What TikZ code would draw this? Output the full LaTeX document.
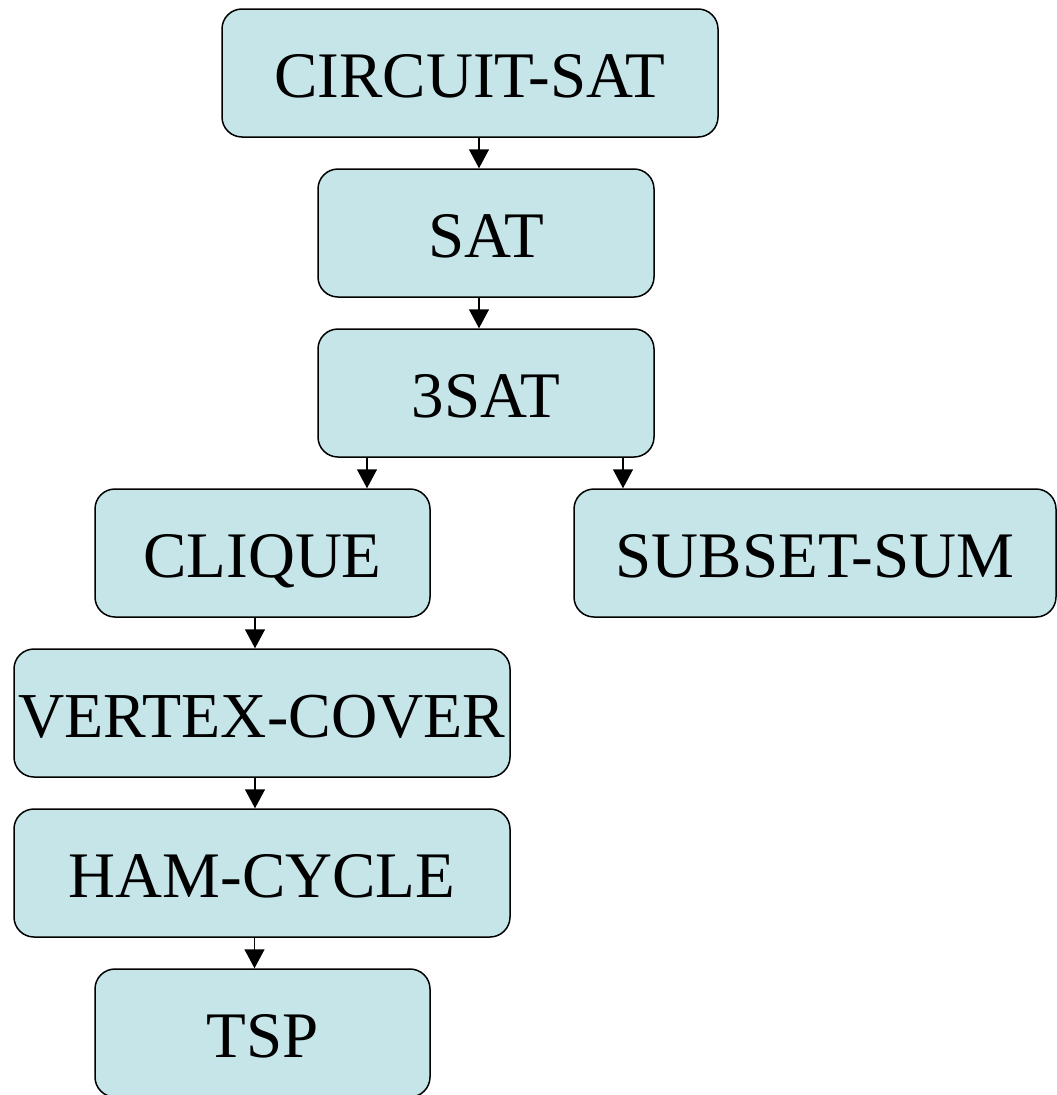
\documentclass[tikz,border=0pt]{standalone}
\usepackage{fontspec}
\setmainfont{Liberation Serif}
\usetikzlibrary{arrows.meta}
\definecolor{boxfill}{RGB}{198,229,232}
\tikzset{
  box/.style={draw=black, line width=1.5pt, fill=boxfill, rounded corners=20pt,
    minimum height=128pt, inner xsep=0pt, inner ysep=0pt,
    font=\fontsize{65}{72}\selectfont, text depth=0pt, text height=48pt},
  arr/.style={line width=1.5pt, -{Triangle[width=20pt,length=19pt]}}
}
\begin{document}
\begin{tikzpicture}[x=1pt,y=-1pt]
\useasboundingbox (0,0) rectangle (1057,1095);
\node[box, minimum width=496pt] (cs) at (470,73) {CIRCUIT-SAT};
\node[box, minimum width=336pt] (sat) at (486,233) {SAT};
\node[box, minimum width=336pt] (tsat) at (486,393) {3SAT};
\node[box, minimum width=335pt] (clique) at (262.5,553) {CLIQUE};
\node[box, minimum width=482pt] (ss) at (815,553) {SUBSET-SUM};
\node[box, minimum width=496pt, font=\fontsize{64}{72}\selectfont] (vc) at (262,713) {VERTEX-COVER};
\node[box, minimum width=496pt] (ham) at (262,873) {HAM-CYCLE};
\node[box, minimum width=335pt] (tsp) at (262.5,1033) {TSP};
\draw[arr] ([xshift=9pt]cs.south) -- ([xshift=9pt]cs.south |- sat.north);
\draw[arr] ([xshift=-7pt]sat.south) -- ([xshift=-7pt]sat.south |- tsat.north);
\draw[arr] ([xshift=-119pt]tsat.south) -- ([xshift=-119pt]tsat.south |- clique.north);
\draw[arr] ([xshift=137pt]tsat.south) -- ([xshift=137pt]tsat.south |- ss.north);
\draw[arr] ([xshift=-7.5pt]clique.south) -- ([xshift=-7.5pt]clique.south |- vc.north);
\draw[arr] ([xshift=-7pt]vc.south) -- ([xshift=-7pt]vc.south |- ham.north);
\draw[arr] ([xshift=-7.5pt]ham.south) -- ([xshift=-7.5pt]ham.south |- tsp.north);
\end{tikzpicture}
\end{document}
